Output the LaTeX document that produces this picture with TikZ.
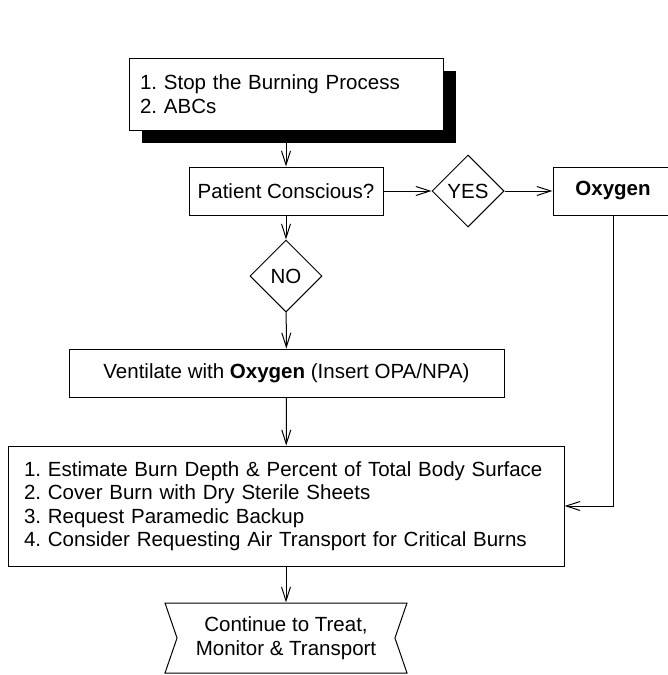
\documentclass[tikz,border=0pt]{standalone}
\usepackage{fontspec}
\setmainfont{Liberation Sans}
\usetikzlibrary{arrows.meta,shapes.geometric,shapes.symbols,shadows}

\tikzset{
	flowbox/.style={draw, line width=1pt, fill=white, rectangle, inner sep=0pt},
	decision/.style={draw, line width=1pt, fill=white, diamond, aspect=1, inner sep=0pt, minimum width=72pt, minimum height=72pt},
	outcome/.style={draw, line width=1pt, fill=white, signal, signal to=nowhere, signal from=west and east, signal pointer angle=142, inner sep=0pt},
	flow/.style={-{Straight Barb[length=14pt,width=9pt]}, line width=1pt},
}

\begin{document}
\frenchspacing
\begin{tikzpicture}[x=1pt, y=-1pt, font=\fontsize{20.5}{23.5}\selectfont]
		\useasboundingbox (0,0) rectangle (667,675);
		\node[flowbox, minimum width=314pt, minimum height=72pt, text width=292pt, align=left,
			drop shadow={shadow xshift=13pt, shadow yshift=-13pt, fill=black, opacity=1}]
			(stop) at (286,94) {1. Stop the Burning Process\\2. ABCs};
		\node[flowbox, minimum width=194pt, minimum height=48pt] (conscious) at (286,191) {Patient Conscious?};
		\node[decision] (yes) at (468,191) {YES};
		\node[flowbox, minimum width=120pt, minimum height=48pt] (oxygen) at (613,191) {\textbf{Oxygen}};
		\node[decision] (no) at (286,276) {NO};
		\node[flowbox, minimum width=435pt, minimum height=48pt] (ventilate) at (286.5,373) {Ventilate with \textbf{Oxygen} (Insert OPA/NPA)};
		\node[flowbox, minimum width=556pt, minimum height=120pt, text width=524pt, align=left] (assess) at (286,506)
			{1. Estimate Burn Depth \& Percent of Total Body Surface\\
			 2. Cover Burn with Dry Sterile Sheets\\
			 3. Request Paramedic Backup\\
			 4. Consider Requesting Air Transport for Critical Burns};
		\node[outcome, minimum width=242pt, minimum height=70pt, align=center] (continue) at (286,638)
			{Continue to Treat,\\Monitor \& Transport};
		\path[flow]
		(stop) edge (conscious)
		(conscious) edge (no)
		(conscious) edge (yes)
		(yes) edge (oxygen)
		(no) edge (ventilate)
		(ventilate) edge (assess)
		(assess) edge (continue)
		;
		\draw[flow] (oxygen.south) |- (assess.east);
	\end{tikzpicture}
\end{document}
